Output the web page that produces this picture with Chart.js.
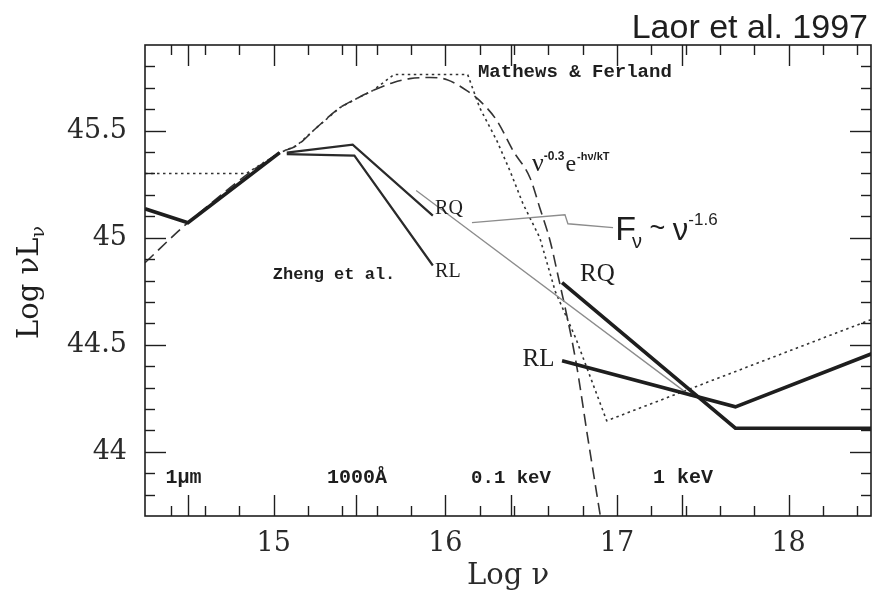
<!DOCTYPE html>
<html>
<head>
<meta charset="utf-8">
<script src="https://cdn.jsdelivr.net/npm/chart.js@4.4.0/dist/chart.umd.min.js"></script>
<style>
  html, body { margin: 0; padding: 0; background: #fff; }
  #wrap { width: 872px; height: 595px; }
</style>
</head>
<body>
<div id="wrap"><canvas id="c" width="872" height="595"></canvas></div>
<script>
// Axis ranges: log frequency (Hz) and log nu L_nu (erg/s)
const xRange = [14.25, 18.48];
const yRange = [43.7, 45.9];

// Tick values and their printed text
const xTickLabels = [15, 16, 17, 18];
const yTickLabels = [44, 44.5, 45, 45.5];
const yTickText = ['44', '44.5', '45', '45.5'];
const xMinorTicks = [14.4, 14.6, 14.8, 15.2, 15.4, 15.6, 15.8, 16.2, 16.4, 16.6, 16.8,
                     17.2, 17.4, 17.6, 17.8, 18.2, 18.4];
const xBandTicks = [14.5, 15.48, 16.38, 17.38];      // 1 micron, 1000 A, 0.1 keV, 1 keV
const yMinorTicks = [43.8, 43.9, 44.1, 44.2, 44.3, 44.4, 44.6, 44.7, 44.8, 44.9,
                     45.1, 45.2, 45.3, 45.4, 45.6, 45.7, 45.8];

// Composite optical/UV continuum (thick)
const optNu = [14.25, 14.5, 15.035];
const optL  = [45.135, 45.07, 45.397];

// Zheng et al. UV composites
const zhengRQNu = [15.076, 15.46, 15.927];
const zhengRQL  = [45.397, 45.435, 45.103];
const zhengRLNu = [15.076, 15.47, 15.927];
const zhengRLL  = [45.39, 45.383, 44.87];

// Soft X-ray power laws (0.2-2 keV) and harder continuation
const xrayRQNu = [16.68, 17.69, 18.49];
const xrayRQL  = [44.79, 44.11, 44.11];
const xrayRLNu = [16.68, 17.69, 18.49];
const xrayRLL  = [44.425, 44.21, 44.46];

// F_nu ~ nu^-1.6 extrapolation and its label leader
const plawNu = [15.83, 17.43];
const plawL  = [45.22, 44.26];
const leaderNu = [16.155, 16.697, 16.714, 16.977];
const leaderL  = [45.07, 45.107, 45.065, 45.047];

// Mathews & Ferland continuum (dotted)
const mfNu = [14.25, 14.84, 15.035, 15.134, 15.25, 15.385, 15.484, 15.577, 15.70, 16.13,
              16.20, 16.30, 16.376, 16.452, 16.55, 16.64, 16.76, 16.94, 18.49];
const mfL  = [45.30, 45.30, 45.397, 45.43, 45.514, 45.607, 45.65, 45.687, 45.762, 45.762,
              45.607, 45.453, 45.313, 45.159, 45.0, 44.75, 44.53, 44.145, 44.62];

// nu^-0.3 exp(-h nu / kT) model (dashed)
const bbNu = [14.25, 14.5, 15.035, 15.134, 15.25, 15.385, 15.484, 15.577, 15.694, 15.793,
              15.91, 16.01, 16.125, 16.20, 16.30, 16.394, 16.493, 16.55, 16.61, 16.65,
              16.76, 16.83, 16.905];
const bbL  = [44.883, 45.07, 45.397, 45.43, 45.514, 45.607, 45.65, 45.687, 45.724, 45.743,
              45.748, 45.738, 45.687, 45.64, 45.547, 45.407, 45.28, 45.14, 44.986, 44.846,
              44.425, 44.065, 43.69];

const pts = (xs, ys) => xs.map((v, i) => ({ x: v, y: ys[i] }));
const INK = '#1e1e1e';

function line(label, xs, ys, style) {
  return Object.assign({
    label, data: pts(xs, ys), showLine: true, pointRadius: 0, pointHoverRadius: 0,
    borderColor: INK, borderWidth: 2, fill: false, tension: 0
  }, style);
}

const datasets = [
  line('xray RQ', xrayRQNu, xrayRQL, { borderWidth: 3.6 }),
  line('xray RL', xrayRLNu, xrayRLL, { borderWidth: 3.6 }),
  line('optical', optNu, optL, { borderWidth: 3.6 }),
  line('Zheng RQ', zhengRQNu, zhengRQL, { borderWidth: 2.2, borderColor: '#2a2a2a' }),
  line('Zheng RL', zhengRLNu, zhengRLL, { borderWidth: 2.2, borderColor: '#2a2a2a' }),
  line('power law', plawNu, plawL, { borderWidth: 1.3, borderColor: '#8c8c8c' }),
  line('leader', leaderNu, leaderL, { borderWidth: 1.3, borderColor: '#8c8c8c' }),
  line('Mathews & Ferland', mfNu, mfL, { borderWidth: 1.6, borderColor: '#333', borderDash: [2.5, 3.5] }),
  line('cutoff model', bbNu, bbL, { borderWidth: 1.6, borderColor: '#333', borderDash: [12, 6],
    cubicInterpolationMode: 'monotone' })
];

// Text annotations, anchored in data coordinates
const notes = [
  { at: [16.19, 45.75],  parts: [['Mathews & Ferland', 'bold 19px "Liberation Mono"', 0]] },
  { at: [14.995, 44.805], parts: [['Zheng et al.', 'bold 17px "Liberation Mono"', 0]] },
  { at: [15.94, 45.11],  parts: [['RQ', '20px "Liberation Serif"', 0]] },
  { at: [15.94, 44.815], parts: [['RL', '20px "Liberation Serif"', 0]] },
  { at: [16.785, 44.80], parts: [['RQ', '25px "Liberation Serif"', 0]] },
  { at: [16.45, 44.40],  parts: [['RL', '25px "Liberation Serif"', 0]] },
  { at: [16.505, 45.31], parts: [['\u03bd', '26px "Liberation Serif"', 0],
                                 ['-0.3', 'bold 12px "Liberation Sans"', -11],
                                 ['e', '24px "Liberation Serif"', 0, 1],
                                 ['-h\u03bd/kT', 'bold 11px "Liberation Sans"', -11, 1]] },
  { at: [16.99, 44.99],  parts: [['F', '34px "Liberation Sans"', 0],
                                 ['\u03bd', '20px "Liberation Sans"', 8, -4],
                                 [' ~ ', '27px "Liberation Sans"', -3],
                                 ['\u03bd', '31px "Liberation Sans"', 0],
                                 ['-1.6', '17px "Liberation Sans"', -15]] },
  { at: [14.37, 43.855], parts: [['1\u03bcm', 'bold 20px "Liberation Mono"', 0]] },
  { at: [15.31, 43.855], parts: [['1000\u00c5', 'bold 20px "Liberation Mono"', 0]] },
  { at: [16.15, 43.855], parts: [['0.1 keV', 'bold 19px "Liberation Mono"', 0]] },
  { at: [17.21, 43.855], parts: [['1 keV', 'bold 20px "Liberation Mono"', 0]] }
];

const framePlugin = {
  id: 'frame',
  afterDatasetsDraw(chart) {
    const { ctx, chartArea: a, scales: { x, y } } = chart;
    ctx.save();
    ctx.strokeStyle = INK;
    ctx.lineWidth = 1.6;
    ctx.strokeRect(a.left, a.top, a.right - a.left, a.bottom - a.top);
    ctx.lineWidth = 1.4;
    const seg = (x0, y0, x1, y1) => { ctx.beginPath(); ctx.moveTo(x0, y0); ctx.lineTo(x1, y1); ctx.stroke(); };
    const tx = (v, len) => { const p = Math.round(x.getPixelForValue(v)) + 0.5;
      seg(p, a.bottom, p, a.bottom - len); seg(p, a.top, p, a.top + len); };
    const ty = (v, len) => { const p = Math.round(y.getPixelForValue(v)) + 0.5;
      seg(a.left, p, a.left + len, p); seg(a.right, p, a.right - len, p); };
    xMinorTicks.forEach(v => tx(v, 10));
    xTickLabels.forEach(v => tx(v, 21));
    xBandTicks.forEach(v => tx(v, 21));
    yMinorTicks.forEach(v => ty(v, 10));
    yTickLabels.forEach(v => ty(v, 21));

    // annotations
    ctx.fillStyle = INK;
    ctx.textBaseline = 'alphabetic';
    notes.forEach(n => {
      let px = x.getPixelForValue(n.at[0]);
      const py = y.getPixelForValue(n.at[1]);
      n.parts.forEach(([t, f, dy, dx]) => {
        ctx.font = f;
        px += dx || 0;
        ctx.fillText(t, px, py + dy);
        px += ctx.measureText(t).width;
      });
    });

    // title
    ctx.font = '34px "Liberation Sans"';
    ctx.textAlign = 'right';
    ctx.fillText('Laor et al. 1997', 868, 38);

    // rotated y-axis title with subscript
    ctx.save();
    ctx.translate(38, (a.top + a.bottom) / 2 + 2);
    ctx.rotate(-Math.PI / 2);
    ctx.textAlign = 'left';
    const main = 'Log \u03bdL';
    ctx.font = '29px "DejaVu Serif"';
    const w1 = ctx.measureText(main).width;
    ctx.font = '19px "DejaVu Serif"';
    const w2 = ctx.measureText('\u03bd').width;
    const start = -(w1 + w2) / 2;
    ctx.font = '29px "DejaVu Serif"';
    ctx.fillText(main, start, 0);
    ctx.font = '19px "DejaVu Serif"';
    ctx.fillText('\u03bd', start + w1, 6);
    ctx.restore();
    ctx.restore();
  }
};

new Chart(document.getElementById('c'), {
  type: 'scatter',
  data: { datasets },
  options: {
    responsive: false,
    animation: false,
    devicePixelRatio: 1,
    layout: { padding: { top: 45, right: 1, left: 0, bottom: 0 } },
    plugins: { legend: { display: false }, tooltip: { enabled: false } },
    scales: {
      x: {
        type: 'linear', min: xRange[0], max: xRange[1],
        grid: { display: false, drawTicks: false },
        border: { display: false },
        afterBuildTicks: s => { s.ticks = xTickLabels.map(v => ({ value: v })); },
        afterFit: s => { s.height = 79; },
        ticks: { color: '#2a2a2a', font: { family: 'DejaVu Serif', size: 27 }, padding: 12,
                 maxRotation: 0, autoSkip: false },
        title: { display: true, text: 'Log \u03bd', color: '#2a2a2a',
                 font: { family: 'DejaVu Serif', size: 29 }, padding: { top: 0, bottom: 1 } }
      },
      y: {
        type: 'linear', min: yRange[0], max: yRange[1],
        grid: { display: false, drawTicks: false },
        border: { display: false },
        afterBuildTicks: s => { s.ticks = yTickLabels.map(v => ({ value: v })); },
        afterFit: s => { s.width = 145; },
        ticks: { color: '#2a2a2a', font: { family: 'DejaVu Serif', size: 27 }, padding: 18,
                 autoSkip: false,
                 callback: v => yTickText[yTickLabels.indexOf(v)] }
      }
    }
  },
  plugins: [framePlugin]
});
</script>
</body>
</html>
